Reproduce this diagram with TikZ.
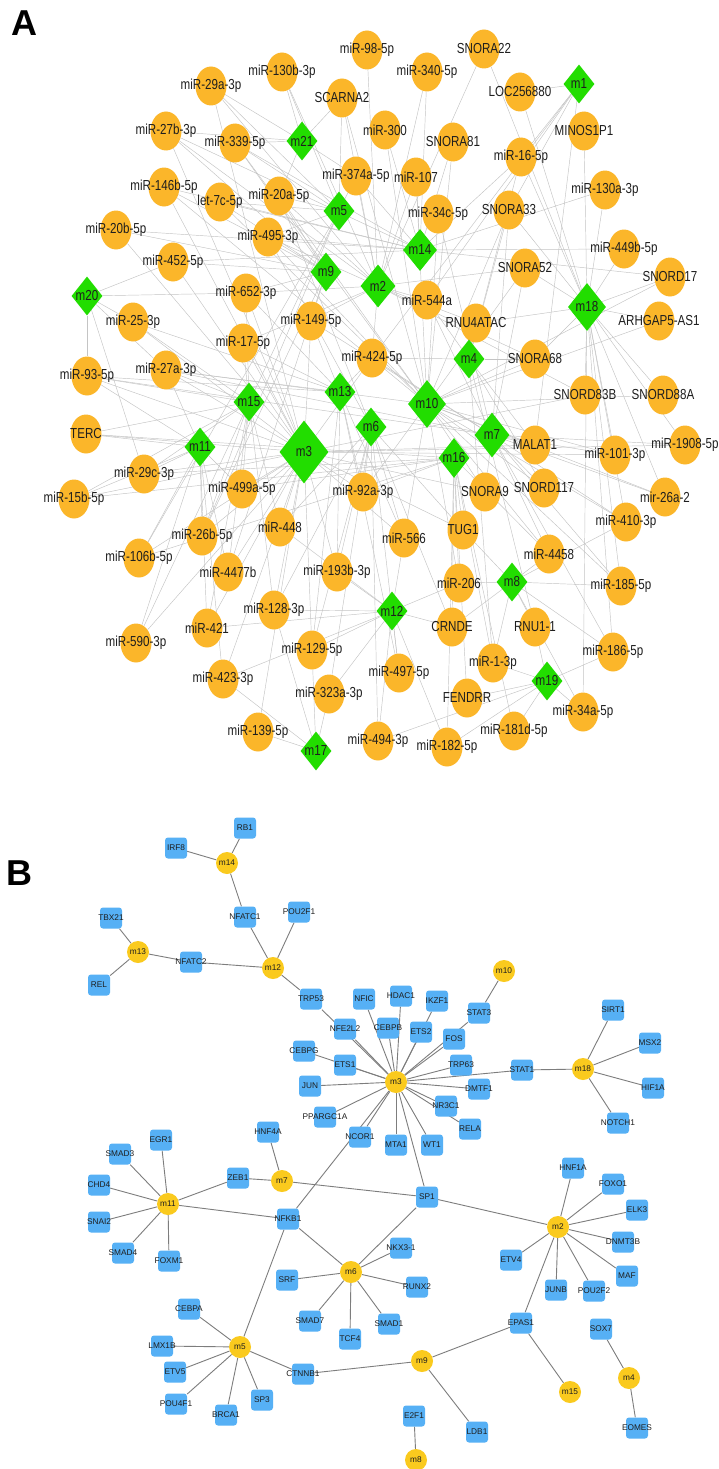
\documentclass[tikz,border=0pt]{standalone}
\usepackage{fontspec}
\setmainfont{Liberation Sans}
\newfontfamily\afont[FakeStretch=0.8]{Liberation Sans}
\usetikzlibrary{shapes.geometric}
\definecolor{aorange}{RGB}{251,182,42}
\definecolor{agreen}{RGB}{34,221,0}
\definecolor{aedgec}{RGB}{196,196,196}
\definecolor{byellow}{RGB}{250,202,30}
\definecolor{bblue}{RGB}{86,176,245}
\definecolor{bedgec}{RGB}{125,125,125}
\definecolor{labc}{RGB}{30,30,30}
\pgfdeclarelayer{bg}
\pgfdeclarelayer{fg}
\pgfsetlayers{bg,main,fg}
\tikzset{
 acirc/.style={ellipse, fill=aorange, draw=none, inner sep=0pt, minimum width=31pt, minimum height=39pt},
 adia/.style={diamond, fill=agreen, draw=none, inner sep=0pt},
 alab/.style={font=\afont\fontsize{14.5}{16}\selectfont, text=labc, inner sep=0pt},
 aedge/.style={draw=aedgec, line width=0.45pt},
 bcirc/.style={circle, fill=byellow, draw=none, inner sep=0pt, minimum size=22pt},
 bbox/.style={rectangle, rounded corners=3pt, fill=bblue, draw=none, inner sep=0pt, minimum width=22pt, minimum height=21pt},
 blab/.style={font=\fontsize{8.3}{9}\selectfont, text=labc, inner sep=0pt},
 bedge/.style={draw=bedgec, line width=0.9pt},
 panel/.style={font=\bfseries\fontsize{36}{40}\selectfont, inner sep=0pt}
}
\newcommand\ANode[4]{\node[acirc] (#1) at (#2,#3) {};\begin{pgfonlayer}{fg}\node[alab] (#1t) at (#1) {#4};\end{pgfonlayer}}
\newcommand\ADia[6]{\node[adia,minimum width=#4pt,minimum height=#5pt] (#1) at (#2,#3) {};\begin{pgfonlayer}{fg}\node[alab] (#1t) at (#1) {#6};\end{pgfonlayer}}
\newcommand\BCirc[4]{\node[bcirc] (#1) at (#2,#3) {};\begin{pgfonlayer}{fg}\node[blab] (#1t) at (#1) {#4};\end{pgfonlayer}}
\newcommand\BRect[4]{\node[bbox] (#1) at (#2,#3) {};\begin{pgfonlayer}{fg}\node[blab] (#1t) at (#1) {#4};\end{pgfonlayer}}
\begin{document}
\begin{tikzpicture}[x=1pt,y=-1pt]
\begin{pgfonlayer}{bg}
\fill[white] (0,0) rectangle (719,1469);
\end{pgfonlayer}
\useasboundingbox (0,0) rectangle (719,1469);
\node[panel] (labA) at (24,23) {A};
\node[panel] (labB) at (19,873) {B};
% ---------------- Panel A nodes
\ANode{c29a3p}{211}{86}{miR-29a-3p}
\ANode{c130b3p}{282}{72}{miR-130b-3p}
\ANode{c985p}{367}{50}{miR-98-5p}
\ANode{cSNORA22}{484}{49}{SNORA22}
\ANode{c3405p}{427}{72}{miR-340-5p}
\ANode{cLOC}{520}{92}{LOC256880}
\ANode{cSCARNA2}{342}{98}{SCARNA2}
\ANode{c27b3p}{166}{131}{miR-27b-3p}
\ANode{c3395p}{235}{143}{miR-339-5p}
\ANode{c300}{385}{130}{miR-300}
\ANode{cSNORA81}{453}{142}{SNORA81}
\ANode{cMINOS}{584}{131}{MINOS1P1}
\ANode{c165p}{521}{157}{miR-16-5p}
\ANode{c146b}{164}{187}{miR-146b-5p}
\ANode{clet7c}{220}{202}{let-7c-5p}
\ANode{c20a}{279}{196}{miR-20a-5p}
\ANode{c374a}{356}{176}{miR-374a-5p}
\ANode{c107}{416}{177}{miR-107}
\ANode{c34c}{438}{214}{miR-34c-5p}
\ANode{cSNORA33}{509}{210}{SNORA33}
\ANode{c130a}{605}{190}{miR-130a-3p}
\ANode{c20b}{116}{230}{miR-20b-5p}
\ANode{c495}{268}{237}{miR-495-3p}
\ANode{c452}{173}{262}{miR-452-5p}
\ANode{c449b}{624}{249}{miR-449b-5p}
\ANode{cSNORA52}{525}{268}{SNORA52}
\ANode{cSNORD17}{670}{277}{SNORD17}
\ANode{c652}{246}{293}{miR-652-3p}
\ANode{c544a}{427}{300}{miR-544a}
\ANode{cRNU4}{476}{323}{RNU4ATAC}
\ANode{cARHG}{659}{321}{ARHGAP5-AS1}
\ANode{c253p}{133}{322}{miR-25-3p}
\ANode{c149}{311}{321}{miR-149-5p}
\ANode{c17}{243}{343}{miR-17-5p}
\ANode{c424}{372}{358}{miR-424-5p}
\ANode{cSNORA68}{535}{359}{SNORA68}
\ANode{c93}{87}{376}{miR-93-5p}
\ANode{c27a}{166}{370}{miR-27a-3p}
\ANode{cSNORD83B}{585}{395}{SNORD83B}
\ANode{cSNORD88A}{663}{395}{SNORD88A}
\ANode{cTERC}{86}{434}{TERC}
\ANode{cMALAT1}{535}{445}{MALAT1}
\ANode{c101}{615}{455}{miR-101-3p}
\ANode{c1908}{685}{445}{miR-1908-5p}
\ANode{c29c}{144}{474}{miR-29c-3p}
\ANode{c15b}{74}{499}{miR-15b-5p}
\ANode{c499a}{242}{489}{miR-499a-5p}
\ANode{c92a}{363}{492}{miR-92a-3p}
\ANode{cSNORA9}{485}{492}{SNORA9}
\ANode{cSNORD117}{544}{488}{SNORD117}
\ANode{c26a2}{665}{497}{mir-26a-2}
\ANode{c410}{626}{522}{miR-410-3p}
\ANode{c448}{280}{527}{miR-448}
\ANode{c26b}{202}{536}{miR-26b-5p}
\ANode{c566}{404}{538}{miR-566}
\ANode{cTUG1}{463}{530}{TUG1}
\ANode{c4458}{549}{554}{miR-4458}
\ANode{c106b}{139}{558}{miR-106b-5p}
\ANode{c4477b}{228}{572}{miR-4477b}
\ANode{c193b}{337}{572}{miR-193b-3p}
\ANode{c206}{459}{583}{miR-206}
\ANode{c185}{621}{586}{miR-185-5p}
\ANode{c128}{274}{610}{miR-128-3p}
\ANode{cCRNDE}{452}{627}{CRNDE}
\ANode{cRNU1}{535}{627}{RNU1-1}
\ANode{c421}{207}{628}{miR-421}
\ANode{c590}{136}{643}{miR-590-3p}
\ANode{c129}{312}{650}{miR-129-5p}
\ANode{c186}{613}{652}{miR-186-5p}
\ANode{c13p}{493}{663}{miR-1-3p}
\ANode{c497}{399}{673}{miR-497-5p}
\ANode{c423}{223}{679}{miR-423-3p}
\ANode{c323a}{329}{694}{miR-323a-3p}
\ANode{cFENDRR}{467}{698}{FENDRR}
\ANode{c34a}{583}{712}{miR-34a-5p}
\ANode{c181d}{514}{731}{miR-181d-5p}
\ANode{c139}{258}{732}{miR-139-5p}
\ANode{c494}{378}{741}{miR-494-3p}
\ANode{c182}{447}{747}{miR-182-5p}
\ADia{am1}{579}{84}{31}{39}{m1}
\ADia{am2}{378}{286}{35}{43}{m2}
\ADia{am3}{304}{452}{49}{63}{m3}
\ADia{am4}{469}{359}{31}{39}{m4}
\ADia{am5}{339}{211}{31}{39}{m5}
\ADia{am6}{371}{427}{31}{39}{m6}
\ADia{am7}{492}{435}{35}{45}{m7}
\ADia{am8}{512}{582}{31}{39}{m8}
\ADia{am9}{326}{272}{31}{39}{m9}
\ADia{am10}{427}{404}{38}{48}{m10}
\ADia{am11}{200}{447}{31}{39}{m11}
\ADia{am12}{392}{611}{31}{39}{m12}
\ADia{am13}{340}{392}{31}{39}{m13}
\ADia{am14}{420}{250}{34}{42}{m14}
\ADia{am15}{249}{402}{31}{39}{m15}
\ADia{am16}{454}{458}{31}{40}{m16}
\ADia{am17}{316}{751}{31}{39}{m17}
\ADia{am18}{587}{307}{38}{48}{m18}
\ADia{am19}{547}{681}{31}{39}{m19}
\ADia{am20}{87}{296}{31}{39}{m20}
\ADia{am21}{302}{141}{31}{39}{m21}
% ---------------- Panel A edges
\begin{pgfonlayer}{bg}
\foreach \t in {c29a3p,c27b3p,c146b,c20b,c452,c253p,c93,c27a,cTERC,c29c,c15b,c499a,c92a,c448,c26b,c106b,c4477b,c193b,c128,c421,c590,c129,c423,c139,c566,cSNORA9,cMALAT1,cSNORD83B,c1908,c101,c17,c149,c652,c424,cTUG1}
  \draw[aedge] (am3) -- (\t);
\foreach \t in {cSCARNA2,c300,cSNORA81,c107,c34c,cSNORA33,cSNORA52,cSNORD17,cARHG,cSNORA68,cSNORD88A,cMALAT1,c101,c26a2,c410,cSNORD117,cSNORA9,c92a,c566,c206,c4458,c185,c495,c20a,clet7c,c3395p,c146b,c27a}
  \draw[aedge] (am10) -- (\t);
\foreach \t in {c130b3p,c985p,cSNORA22,c3405p,cSCARNA2,c374a,c107,c20a,c495,c652,c149,c17,cRNU4,cSNORA68,c424,c544a,cSNORA52,cSNORD83B,c29a3p,c27b3p}
  \draw[aedge] (am2) -- (\t);
\foreach \t in {cSNORA22,cLOC,cMINOS,c165p,c130a,c449b,cSNORD17,cARHG,cSNORD88A,cSNORD83B,c1908,c101,c26a2,c410,c185,c186,cSNORA52,cSNORA33,c34a,cRNU4,cSNORA68}
  \draw[aedge] (am18) -- (\t);
\foreach \t in {c34c,cSNORA33,cSNORA52,c1908,c101,c26a2,c410,c4458,c185,c186,cSNORD117,cMALAT1,cSNORA9,c424,c544a,c149,c27a,c93}
  \draw[aedge] (am7) -- (\t);
\foreach \t in {c3405p,cSNORA81,c300,c107,c374a,c165p,c130a,c449b,cSNORD17,c3395p,clet7c,c146b,c20b,c452,c27b3p,c495}
  \draw[aedge] (am14) -- (\t);
\foreach \t in {c92a,cTUG1,c206,cCRNDE,c13p,cFENDRR,c182,c181d,c4458,c499a,c29c,c15b,cTERC,c106b}
  \draw[aedge] (am16) -- (\t);
\foreach \t in {c652,c149,c17,c27a,c93,c253p,c424,c92a,c566,c193b,c129,c497}
  \draw[aedge] (am13) -- (\t);
\foreach \t in {c448,c193b,c128,c129,c323a,c494,c497,c566,c92a,cTUG1,cCRNDE,c20a,c495}
  \draw[aedge] (am6) -- (\t);
\foreach \t in {c20a,c495,c3395p,clet7c,c652,c149,c27b3p,c146b,c20b,c452,c4477b,c26b}
  \draw[aedge] (am9) -- (\t);
\foreach \t in {c374a,c20a,c130b3p,c29a3p,cSCARNA2,c3395p,c495,clet7c,c26b,c106b,c590}
  \draw[aedge] (am5) -- (\t);
\foreach \t in {cRNU4,c544a,cSNORA68,c424,cSNORA33,c165p,cMALAT1,cSNORD117,c13p,cRNU1}
  \draw[aedge] (am4) -- (\t);
\foreach \t in {c17,c652,c27a,c93,cTERC,c253p,c29c,c15b,c499a,c448,c26b,c4477b,c421,c128}
  \draw[aedge] (am15) -- (\t);
\foreach \t in {c29c,c15b,cTERC,c93,c27a,c106b,c26b,c4477b,c590,c421,c423,c499a}
  \draw[aedge] (am11) -- (\t);
\foreach \t in {c193b,c128,c129,c323a,c494,c497,c182,cCRNDE,c206,c566,c448,c421,c423}
  \draw[aedge] (am12) -- (\t);
\foreach \t in {c4458,c206,cRNU1,c13p,c186,c185,cTUG1,cCRNDE,c34a,c410}
  \draw[aedge] (am8) -- (\t);
\foreach \t in {c182,c181d,c34a,c13p,cRNU1,cFENDRR,c186,c494}
  \draw[aedge] (am19) -- (\t);
\foreach \t in {c139,c323a,c129,c423,c128}
  \draw[aedge] (am17) -- (\t);
\foreach \t in {c130b3p,c29a3p,c27b3p,c3395p,cSCARNA2,c374a,c20a}
  \draw[aedge] (am21) -- (\t);
\foreach \t in {c452,c253p,c93,c27a,c29c,c652}
  \draw[aedge] (am20) -- (\t);
\foreach \t in {c165p,cSNORA33,cLOC,c544a,c424,cMALAT1}
  \draw[aedge] (am1) -- (\t);
\end{pgfonlayer}
% ---------------- Panel B nodes
\BCirc{bm14}{227}{863}{m14}
\BRect{RB1}{245}{828}{RB1}
\BRect{IRF8}{176}{848}{IRF8}
\BRect{NFATC1}{245}{917}{NFATC1}
\BRect{POU2F1}{299}{912}{POU2F1}
\BRect{TBX21}{111}{918}{TBX21}
\BCirc{bm13}{138}{952}{m13}
\BRect{NFATC2}{191}{962}{NFATC2}
\BCirc{bm12}{273}{968}{m12}
\BRect{REL}{99}{985}{REL}
\BRect{TRP53}{311}{999}{TRP53}
\BRect{NFE2L2}{345}{1029}{NFE2L2}
\BRect{CEBPG}{304}{1051}{CEBPG}
\BRect{ETS1}{345}{1065}{ETS1}
\BRect{JUN}{310}{1086}{JUN}
\BRect{PPARGC1A}{325}{1117}{PPARGC1A}
\BRect{HNF4A}{268}{1132}{HNF4A}
\BRect{EGR1}{161}{1140}{EGR1}
\BRect{NCOR1}{360}{1137}{NCOR1}
\BCirc{bm10}{504}{971}{m10}
\BRect{NFIC}{364}{999}{NFIC}
\BRect{HDAC1}{401}{996}{HDAC1}
\BRect{IKZF1}{437}{1001}{IKZF1}
\BRect{STAT3}{479}{1013}{STAT3}
\BRect{CEBPB}{388}{1028}{CEBPB}
\BRect{ETS2}{421}{1032}{ETS2}
\BRect{FOS}{454}{1039}{FOS}
\BRect{SIRT1}{613}{1010}{SIRT1}
\BRect{MSX2}{650}{1043}{MSX2}
\BRect{TRP63}{461}{1065}{TRP63}
\BRect{STAT1}{522}{1070}{STAT1}
\BCirc{bm18}{583}{1069}{m18}
\BCirc{bm3}{396}{1082}{m3}
\BRect{DMTF1}{479}{1089}{DMTF1}
\BRect{HIF1A}{653}{1088}{HIF1A}
\BRect{NR3C1}{446}{1106}{NR3C1}
\BRect{RELA}{470}{1129}{RELA}
\BRect{NOTCH1}{618}{1123}{NOTCH1}
\BRect{MTA1}{396}{1145}{MTA1}
\BRect{WT1}{432}{1145}{WT1}
\BRect{SMAD3}{120}{1154}{SMAD3}
\BCirc{bm7}{282}{1181}{m7}
\BRect{ZEB1}{238}{1178}{ZEB1}
\BRect{CHD4}{99}{1185}{CHD4}
\BCirc{bm11}{168}{1204}{m11}
\BRect{NFKB1}{288}{1219}{NFKB1}
\BRect{SNAI2}{99}{1222}{SNAI2}
\BRect{SMAD4}{123}{1253}{SMAD4}
\BRect{FOXM1}{169}{1261}{FOXM1}
\BCirc{bm6}{351}{1272}{m6}
\BRect{SRF}{287}{1280}{SRF}
\BRect{CEBPA}{189}{1309}{CEBPA}
\BRect{SMAD7}{310}{1321}{SMAD7}
\BRect{TCF4}{350}{1339}{TCF4}
\BRect{LMX1B}{162}{1346}{LMX1B}
\BCirc{bm5}{240}{1347}{m5}
\BRect{ETV5}{175}{1372}{ETV5}
\BRect{CTNNB1}{303}{1374}{CTNNB1}
\BRect{POU4F1}{176}{1404}{POU4F1}
\BRect{SP3}{262}{1400}{SP3}
\BRect{BRCA1}{226}{1415}{BRCA1}
\BRect{HNF1A}{573}{1168}{HNF1A}
\BRect{FOXO1}{613}{1184}{FOXO1}
\BRect{SP1}{427}{1197}{SP1}
\BRect{ELK3}{637}{1210}{ELK3}
\BCirc{bm2}{558}{1227}{m2}
\BRect{DNMT3B}{623}{1242}{DNMT3B}
\BRect{NKX31}{401}{1248}{NKX3-1}
\BRect{ETV4}{511}{1260}{ETV4}
\BRect{MAF}{627}{1276}{MAF}
\BRect{RUNX2}{417}{1287}{RUNX2}
\BRect{JUNB}{556}{1290}{JUNB}
\BRect{POU2F2}{594}{1291}{POU2F2}
\BRect{SMAD1}{389}{1324}{SMAD1}
\BRect{EPAS1}{521}{1323}{EPAS1}
\BRect{SOX7}{601}{1329}{SOX7}
\BCirc{bm9}{422}{1361}{m9}
\BCirc{bm4}{629}{1378}{m4}
\BCirc{bm15}{570}{1392}{m15}
\BRect{E2F1}{414}{1416}{E2F1}
\BRect{LDB1}{477}{1432}{LDB1}
\BRect{EOMES}{637}{1428}{EOMES}
\BCirc{bm8}{416}{1460}{m8}
% ---------------- Panel B edges
\begin{pgfonlayer}{bg}
\foreach \s/\t in {bm14/RB1,bm14/IRF8,bm14/NFATC1,NFATC1/bm12,POU2F1/bm12,NFATC2/bm12,bm13/NFATC2,bm13/TBX21,bm13/REL,bm12/TRP53,TRP53/bm3,NFE2L2/bm3,NFIC/bm3,HDAC1/bm3,IKZF1/bm3,ETS2/bm3,CEBPB/bm3,STAT3/bm3,FOS/bm3,bm10/STAT3,TRP63/bm3,STAT1/bm3,DMTF1/bm3,NR3C1/bm3,RELA/bm3,WT1/bm3,MTA1/bm3,NCOR1/bm3,NFKB1/bm3,PPARGC1A/bm3,JUN/bm3,ETS1/bm3,CEBPG/bm3,SP1/bm3,bm7/HNF4A,bm7/ZEB1,bm7/SP1,bm11/ZEB1,bm11/EGR1,bm11/SMAD3,bm11/CHD4,bm11/SNAI2,bm11/SMAD4,bm11/FOXM1,bm11/NFKB1,NFKB1/bm6,NFKB1/bm5,bm6/SRF,bm6/SMAD7,bm6/TCF4,bm6/SMAD1,bm6/RUNX2,bm6/NKX31,bm6/SP1,SP1/bm2,bm2/HNF1A,bm2/FOXO1,bm2/ELK3,bm2/DNMT3B,bm2/MAF,bm2/POU2F2,bm2/JUNB,bm2/ETV4,bm2/EPAS1,EPAS1/bm9,EPAS1/bm15,bm9/CTNNB1,bm9/LDB1,bm5/CTNNB1,bm5/CEBPA,bm5/LMX1B,bm5/ETV5,bm5/POU4F1,bm5/BRCA1,bm5/SP3,bm4/SOX7,bm4/EOMES,bm8/E2F1,bm18/STAT1,bm18/SIRT1,bm18/MSX2,bm18/HIF1A,bm18/NOTCH1}
  \draw[bedge] (\s) -- (\t);
\end{pgfonlayer}
\end{tikzpicture}
\end{document}
